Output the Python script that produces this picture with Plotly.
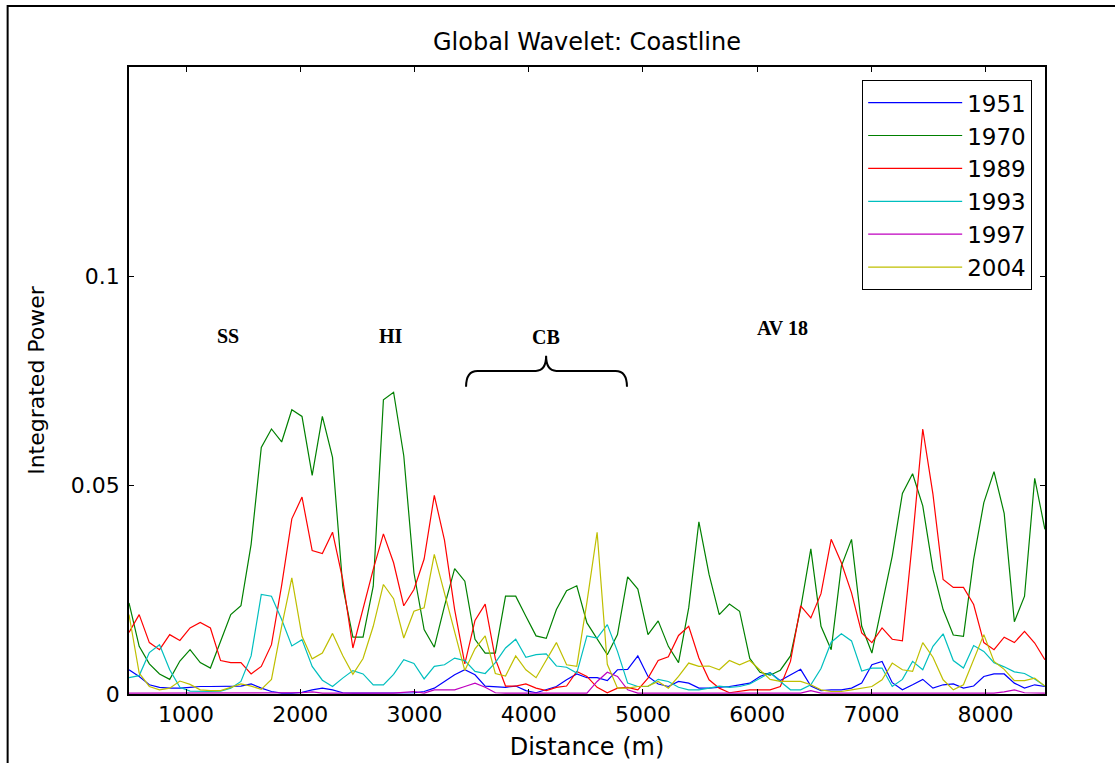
import plotly.graph_objects as go

# Sample positions along the coastline (m): 91 evenly spaced samples
start_m = 500.0
step_m = 89.1
n_samples = 91
distance_m = [round(start_m + step_m * i, 1) for i in range(n_samples)]

years = ["1951", "1970", "1989", "1993", "1997", "2004"]

p1951 = [0.0058, 0.0042, 0.0022, 0.0016, 0.0014, 0.0014, 0.0016, 0.0018, 0.0018, 0.0018,
         0.0018, 0.0019, 0.0024, 0.0014, 0.0006, 0.0002, 0.0002, 0.0004, 0.0010, 0.0014,
         0.0010, 0.0003, 0.0002, 0.0002, 0.0002, 0.0002, 0.0002, 0.0002, 0.0003, 0.0006,
         0.0014, 0.0030, 0.0046, 0.0058, 0.0046, 0.0019, 0.0018, 0.0016, 0.0019, 0.0008,
         0.0003, 0.0010, 0.0018, 0.0034, 0.0048, 0.0039, 0.0039, 0.0032, 0.0058, 0.0059,
         0.0091, 0.0042, 0.0024, 0.0018, 0.0030, 0.0026, 0.0014, 0.0014, 0.0016, 0.0018,
         0.0022, 0.0026, 0.0042, 0.0051, 0.0032, 0.0046, 0.0059, 0.0019, 0.0008, 0.0010,
         0.0010, 0.0014, 0.0026, 0.0070, 0.0078, 0.0027, 0.0010, 0.0022, 0.0035, 0.0014,
         0.0022, 0.0024, 0.0014, 0.0019, 0.0042, 0.0048, 0.0048, 0.0026, 0.0014, 0.0022,
         0.0018]

p1970 = [0.0218, 0.0114, 0.0072, 0.0048, 0.0035, 0.0079, 0.0106, 0.0075, 0.0062, 0.0124,
         0.0190, 0.0211, 0.0358, 0.0590, 0.0634, 0.0603, 0.0680, 0.0664, 0.0523, 0.0664,
         0.0566, 0.0258, 0.0136, 0.0136, 0.0258, 0.0704, 0.0722, 0.0570, 0.0290, 0.0154,
         0.0112, 0.0210, 0.0300, 0.0270, 0.0131, 0.0098, 0.0098, 0.0234, 0.0234, 0.0186,
         0.0139, 0.0133, 0.0202, 0.0247, 0.0259, 0.0170, 0.0131, 0.0094, 0.0142, 0.0280,
         0.0251, 0.0142, 0.0175, 0.0114, 0.0075, 0.0206, 0.0412, 0.0286, 0.0190, 0.0215,
         0.0198, 0.0085, 0.0052, 0.0045, 0.0057, 0.0091, 0.0205, 0.0347, 0.0162, 0.0106,
         0.0306, 0.0370, 0.0162, 0.0098, 0.0214, 0.0330, 0.0480, 0.0527, 0.0450, 0.0298,
         0.0202, 0.0141, 0.0138, 0.0322, 0.0458, 0.0532, 0.0432, 0.0173, 0.0234, 0.0516,
         0.0394]

p1989 = [0.0147, 0.0190, 0.0123, 0.0106, 0.0142, 0.0128, 0.0158, 0.0171, 0.0158, 0.0080,
         0.0075, 0.0075, 0.0048, 0.0066, 0.0118, 0.0260, 0.0419, 0.0471, 0.0343, 0.0336,
         0.0387, 0.0274, 0.0110, 0.0206, 0.0298, 0.0383, 0.0314, 0.0211, 0.0250, 0.0323,
         0.0475, 0.0368, 0.0202, 0.0072, 0.0176, 0.0215, 0.0084, 0.0019, 0.0019, 0.0024,
         0.0014, 0.0008, 0.0016, 0.0019, 0.0054, 0.0042, 0.0016, 0.0003, 0.0014, 0.0016,
         0.0010, 0.0038, 0.0080, 0.0089, 0.0140, 0.0162, 0.0086, 0.0034, 0.0014, 0.0003,
         0.0007, 0.0010, 0.0010, 0.0010, 0.0018, 0.0078, 0.0211, 0.0182, 0.0240, 0.0370,
         0.0314, 0.0242, 0.0146, 0.0123, 0.0158, 0.0131, 0.0127, 0.0370, 0.0634, 0.0478,
         0.0274, 0.0255, 0.0255, 0.0214, 0.0123, 0.0106, 0.0136, 0.0123, 0.0150, 0.0122,
         0.0082]

p1993 = [0.0039, 0.0044, 0.0099, 0.0118, 0.0058, 0.0016, 0.0007, 0.0006, 0.0006, 0.0007,
         0.0014, 0.0030, 0.0091, 0.0238, 0.0234, 0.0178, 0.0115, 0.0130, 0.0066, 0.0033,
         0.0018, 0.0038, 0.0056, 0.0048, 0.0022, 0.0022, 0.0047, 0.0082, 0.0073, 0.0036,
         0.0066, 0.0070, 0.0086, 0.0080, 0.0054, 0.0049, 0.0075, 0.0110, 0.0131, 0.0088,
         0.0094, 0.0096, 0.0067, 0.0064, 0.0050, 0.0139, 0.0134, 0.0166, 0.0102, 0.0026,
         0.0018, 0.0018, 0.0035, 0.0030, 0.0016, 0.0010, 0.0010, 0.0014, 0.0019, 0.0016,
         0.0018, 0.0024, 0.0037, 0.0051, 0.0030, 0.0010, 0.0010, 0.0022, 0.0061, 0.0124,
         0.0144, 0.0127, 0.0055, 0.0062, 0.0062, 0.0018, 0.0035, 0.0078, 0.0058, 0.0114,
         0.0144, 0.0080, 0.0062, 0.0116, 0.0102, 0.0075, 0.0065, 0.0053, 0.0049, 0.0036,
         0.0019]

p1997 = [0.0002, 0.0002, 0.0002, 0.0002, 0.0002, 0.0002, 0.0002, 0.0002, 0.0002, 0.0002,
         0.0002, 0.0002, 0.0002, 0.0002, 0.0002, 0.0002, 0.0002, 0.0003, 0.0005, 0.0002,
         0.0002, 0.0002, 0.0002, 0.0002, 0.0002, 0.0002, 0.0002, 0.0004, 0.0006, 0.0002,
         0.0010, 0.0010, 0.0010, 0.0018, 0.0026, 0.0016, 0.0003, 0.0002, 0.0002, 0.0002,
         0.0002, 0.0002, 0.0002, 0.0002, 0.0002, 0.0002, 0.0030, 0.0052, 0.0042, 0.0010,
         0.0002, 0.0002, 0.0002, 0.0002, 0.0002, 0.0002, 0.0002, 0.0002, 0.0002, 0.0002,
         0.0002, 0.0002, 0.0002, 0.0002, 0.0002, 0.0002, 0.0002, 0.0008, 0.0002, 0.0002,
         0.0002, 0.0002, 0.0002, 0.0002, 0.0002, 0.0002, 0.0002, 0.0002, 0.0002, 0.0002,
         0.0002, 0.0002, 0.0002, 0.0002, 0.0002, 0.0002, 0.0005, 0.0010, 0.0003, 0.0002,
         0.0002]

p2004 = [0.0190, 0.0050, 0.0018, 0.0010, 0.0014, 0.0031, 0.0023, 0.0010, 0.0008, 0.0008,
         0.0016, 0.0024, 0.0019, 0.0011, 0.0035, 0.0162, 0.0278, 0.0138, 0.0084, 0.0098,
         0.0145, 0.0092, 0.0047, 0.0085, 0.0162, 0.0262, 0.0228, 0.0134, 0.0198, 0.0206,
         0.0334, 0.0242, 0.0152, 0.0056, 0.0108, 0.0139, 0.0049, 0.0043, 0.0091, 0.0058,
         0.0039, 0.0082, 0.0123, 0.0070, 0.0066, 0.0220, 0.0387, 0.0071, 0.0014, 0.0014,
         0.0018, 0.0019, 0.0030, 0.0014, 0.0042, 0.0074, 0.0066, 0.0067, 0.0058, 0.0080,
         0.0070, 0.0080, 0.0058, 0.0035, 0.0030, 0.0030, 0.0030, 0.0022, 0.0010, 0.0006,
         0.0006, 0.0010, 0.0014, 0.0018, 0.0034, 0.0074, 0.0058, 0.0054, 0.0123, 0.0088,
         0.0034, 0.0010, 0.0022, 0.0080, 0.0142, 0.0078, 0.0059, 0.0032, 0.0032, 0.0038,
         0.0019]

series = [p1951, p1970, p1989, p1993, p1997, p2004]
colors = ["#0000ff", "#008000", "#ff0000", "#00bfbf", "#bf00bf", "#bfbf00"]

x_ticks = [1000, 2000, 3000, 4000, 5000, 6000, 7000, 8000]
y_ticks = [0, 0.05, 0.1]
y_ticktext = ["0", "0.05", "0.1"]

site_labels = ["SS", "HI", "CB", "AV 18"]
site_x = [1365, 2794, 4152, 6220]
site_y = [0.0857, 0.0857, 0.0855, 0.0876]

fig = go.Figure()
for name, vals, col in zip(years, series, colors):
    fig.add_trace(go.Scatter(x=distance_m, y=vals, mode="lines", name=name,
                             line=dict(color=col, width=1.2)))

axis_common = dict(showline=True, linecolor="black", linewidth=1.5, mirror="ticks",
                   ticks="inside", ticklen=5, tickcolor="black", tickwidth=1,
                   showgrid=False, zeroline=False, automargin=False,
                   tickfont=dict(size=22, color="black"))

fig.update_layout(
    width=1115, height=763,
    margin=dict(l=129, r=70, t=67, b=69),
    plot_bgcolor="white", paper_bgcolor="white",
    font=dict(family="DejaVu Sans", color="black"),
    title=dict(text="Global Wavelet: Coastline", x=0.5, xref="paper", xanchor="center",
               y=1 - 42 / 763, yanchor="middle", font=dict(size=24, color="black")),
    xaxis=dict(range=[500, 8520], tickvals=x_ticks,
               title=dict(text="Distance (m)", font=dict(size=24), standoff=12),
               **axis_common),
    yaxis=dict(range=[0, 0.15], tickvals=y_ticks, ticktext=y_ticktext,
               ticklabelstandoff=3,
               title=dict(text="Integrated Power", font=dict(size=22), standoff=20),
               **axis_common),
    legend=dict(x=0.986, xanchor="right", y=0.979, yanchor="top",
                bgcolor="white", bordercolor="black", borderwidth=1,
                font=dict(size=23, color="black"), tracegroupgap=0,
                itemwidth=94),
    showlegend=True,
)

for lab, lx, ly in zip(site_labels, site_x, site_y):
    fig.add_annotation(x=lx, y=ly, xref="x", yref="y", text=lab, showarrow=False,
                       font=dict(family="Liberation Serif", size=20, color="black",
                                 weight="bold"))

# Curly brace under the CB label
bx0, bxm, bx1 = 3451, 4152, 4860
by_end, by_arm, by_tip = 0.0735, 0.0773, 0.0809
brace = (f"M {bx0},{by_end} Q {bx0},{by_arm} {bx0 + 100},{by_arm} "
         f"L {bxm - 90},{by_arm} Q {bxm},{by_arm} {bxm},{by_tip} "
         f"Q {bxm},{by_arm} {bxm + 90},{by_arm} "
         f"L {bx1 - 100},{by_arm} Q {bx1},{by_arm} {bx1},{by_end}")
fig.add_shape(type="path", path=brace, xref="x", yref="y",
              line=dict(color="black", width=2))

# Outer figure frame (top and left edges visible)
fig.add_shape(type="path", xref="paper", yref="paper",
              path="M -0.1325,-0.2 L -0.1325,1.0973 L 1.2,1.0973",
              line=dict(color="black", width=2))

fig.write_html("out.html")
